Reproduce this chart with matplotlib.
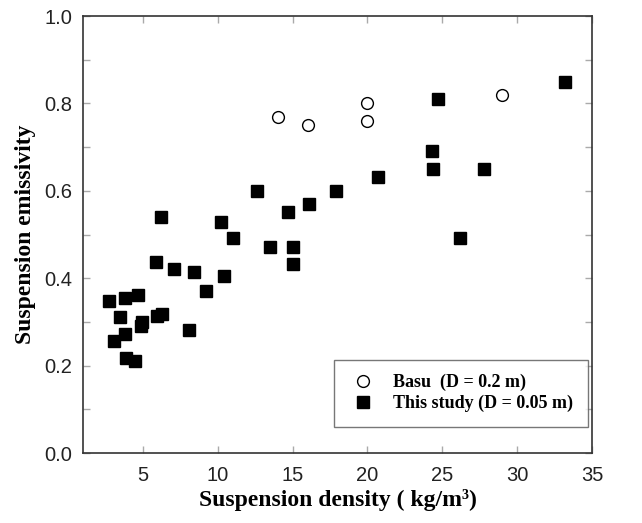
import matplotlib
matplotlib.use("Agg")
import matplotlib.pyplot as plt
from matplotlib.ticker import MultipleLocator

basu_x = [14.0, 16.0, 20.0, 20.0, 29.0]
basu_y = [0.77, 0.75, 0.80, 0.76, 0.82]

study_x = [33.2, 24.7, 24.3, 24.4, 27.8, 20.7, 17.9, 12.6, 16.1, 14.7, 26.2,
           6.2, 10.2, 11.0, 13.5, 15.0, 15.0, 5.9, 7.1, 8.4, 10.4, 9.2,
           2.75, 3.8, 4.65, 3.5, 4.95, 4.9, 5.95, 6.3, 8.1, 3.05, 3.8, 3.9, 4.5]
study_y = [0.85, 0.81, 0.69, 0.65, 0.65, 0.632, 0.60, 0.60, 0.57, 0.552, 0.491,
           0.539, 0.529, 0.491, 0.471, 0.471, 0.432, 0.438, 0.422, 0.414, 0.404, 0.371,
           0.349, 0.354, 0.362, 0.312, 0.300, 0.291, 0.314, 0.318, 0.281, 0.256, 0.272, 0.217, 0.211]

x_ticks = [5, 10, 15, 20, 25, 30, 35]
y_ticks = [0.0, 0.2, 0.4, 0.6, 0.8, 1.0]

fig = plt.figure(figsize=(6.42, 5.23), dpi=100)
ax = fig.add_axes([0.1293, 0.1338, 0.7928, 0.8356])

ax.plot(basu_x, basu_y, linestyle='none', marker='o', ms=8.5, mfc='white', mec='black',
        mew=1.0, label='Basu  (D = 0.2 m)')
ax.plot(study_x, study_y, linestyle='none', marker='s', ms=8.5, mfc='black', mec='black',
        label='This study (D = 0.05 m)')

ax.set_xlim(1, 35)
ax.set_ylim(0, 1.0)
ax.set_xticks(x_ticks)
ax.set_xticklabels([str(v) for v in x_ticks])
ax.set_yticks(y_ticks)
ax.set_yticklabels(['%.1f' % v for v in y_ticks])
ax.yaxis.set_minor_locator(MultipleLocator(0.1))

ax.tick_params(axis='both', which='both', direction='in', top=True, right=True,
               color='#aaaaaa', length=5, width=1, labelsize=14.5, labelcolor='#222222')
ax.tick_params(axis='x', which='major', pad=9)
ax.tick_params(axis='y', which='major', pad=8)
for lab in ax.get_xticklabels() + ax.get_yticklabels():
    lab.set_fontfamily('Liberation Sans')
for s in ax.spines.values():
    s.set_linewidth(1.2)
    s.set_color('#333333')

ax.set_xlabel('Suspension density ( kg/m\u00b3)', fontfamily='Liberation Serif',
              fontweight='bold', fontsize=17, labelpad=3)
ax.set_ylabel('Suspension emissivity', fontfamily='Liberation Serif',
              fontweight='bold', fontsize=17, labelpad=6)

leg = ax.legend(loc='lower right', bbox_to_anchor=(0.992, 0.06), frameon=True, fancybox=False,
                edgecolor='#555555', prop={'family': 'Liberation Serif', 'weight': 'bold', 'size': 13},
                handlelength=1.6, handletextpad=0.9, borderpad=0.8, labelspacing=0.2,
                borderaxespad=0)
leg.get_frame().set_linewidth(1.0)

fig.savefig('out.png', dpi=100)
